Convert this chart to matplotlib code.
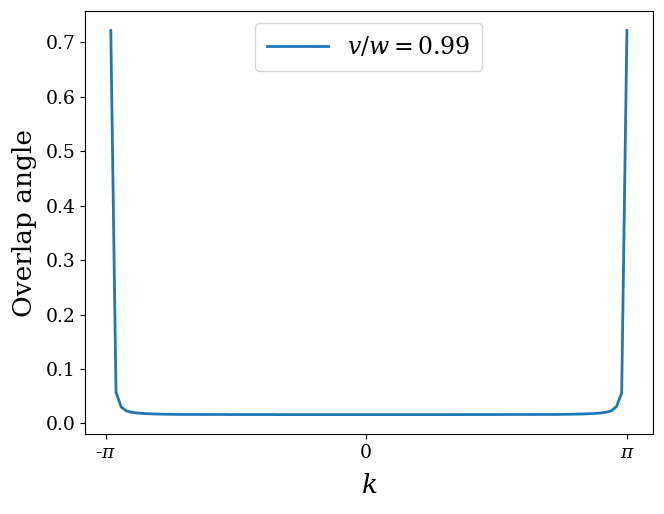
import numpy as np
import matplotlib
matplotlib.use("Agg")
import matplotlib.pyplot as plt

plt.rcParams["font.family"] = ["DejaVu Serif"]
plt.rcParams["mathtext.fontset"] = "dejavuserif"

# k grid: 100 points, -pi (exclusive) .. pi (inclusive)
k = np.linspace(-np.pi, np.pi, 101)[1:]

# overlap angle
angle = [
    0.722, 0.057, 0.030, 0.0230, 0.0205, 0.0192, 0.0184, 0.0179, 0.0175, 0.0172,
    0.0170, 0.0168, 0.0167, 0.0166, 0.0165, 0.0165, 0.0165, 0.0165, 0.0164, 0.0164,
    0.0164, 0.0164, 0.0164, 0.0163, 0.0163, 0.0163, 0.0163, 0.0163, 0.0163, 0.0163,
    0.0163, 0.0163, 0.0162, 0.0162, 0.0162, 0.0162, 0.0162, 0.0162, 0.0162, 0.0162,
    0.0162, 0.0162, 0.0162, 0.0162, 0.0162, 0.0162, 0.0162, 0.0162, 0.0162, 0.0162,
    0.0162, 0.0162, 0.0162, 0.0162, 0.0162, 0.0162, 0.0162, 0.0162, 0.0162, 0.0162,
    0.0162, 0.0162, 0.0162, 0.0162, 0.0162, 0.0162, 0.0162, 0.0162, 0.0163, 0.0163,
    0.0163, 0.0163, 0.0163, 0.0163, 0.0163, 0.0163, 0.0164, 0.0164, 0.0164, 0.0164,
    0.0164, 0.0164, 0.0165, 0.0165, 0.0165, 0.0165, 0.0166, 0.0167, 0.0168, 0.0170,
    0.0172, 0.0175, 0.0179, 0.0184, 0.0192, 0.0205, 0.0230, 0.031, 0.056, 0.722,
]

xticks = [-np.pi, 0, np.pi]
xticklabels = [r"-$\pi$", "0", r"$\pi$"]
label = r"$v/w = 0.99$"

fig = plt.figure(figsize=(6.64, 5.14), dpi=100)
ax = fig.add_axes([0.128, 0.156, 0.855, 0.822])
ax.plot(k, angle, color="tab:blue", lw=2, label=label)

ax.set_xticks(xticks)
ax.set_xticklabels(xticklabels)
ax.set_yticks(np.arange(0, 0.75, 0.1))
ax.tick_params(labelsize=13.5)
ax.set_xlabel(r"$k$", fontsize=19, labelpad=8)
ax.set_ylabel("Overlap angle", fontsize=19, labelpad=6)
ax.legend(loc="upper center", fontsize=17, handlelength=2.6, borderpad=0.5)

plt.savefig("out.png", dpi=100)
